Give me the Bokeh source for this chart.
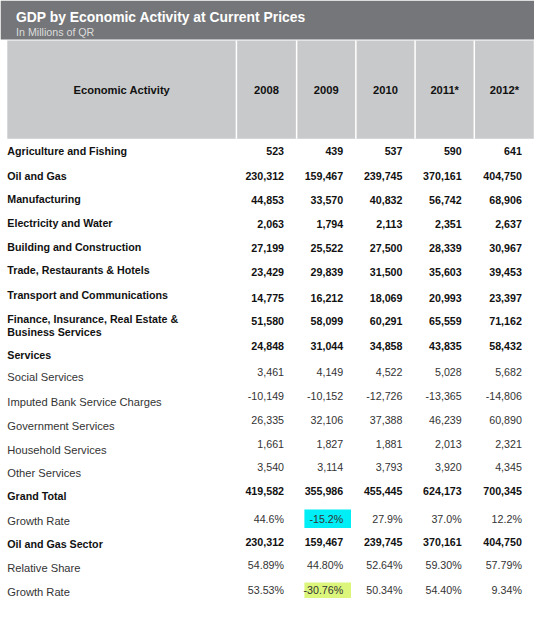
from bokeh.plotting import figure
from bokeh.models import Range1d, ColumnDataSource
from bokeh.core.properties import value
from bokeh.embed import file_html
from bokeh.resources import INLINE

# ---------------- data ----------------
title = "GDP by Economic Activity at Current Prices"
subtitle = "In Millions of QR"
header_label = "Economic Activity"
years = ["2008", "2009", "2010", "2011*", "2012*"]

activities = [
    "Agriculture and Fishing", "Oil and Gas", "Manufacturing", "Electricity and Water",
    "Building and Construction", "Trade, Restaurants & Hotels", "Transport and Communications",
    "Finance, Insurance, Real Estate &|Business Services", "Services", "Social Services",
    "Imputed Bank Service Charges", "Government Services", "Household Services", "Other Services",
    "Grand Total", "Growth Rate", "Oil and Gas Sector", "Relative Share", "Growth Rate",
]

agriculture = [523, 439, 537, 590, 641]
oil_gas = [230312, 159467, 239745, 370161, 404750]
manufacturing = [44853, 33570, 40832, 56742, 68906]
electricity_water = [2063, 1794, 2113, 2351, 2637]
building_construction = [27199, 25522, 27500, 28339, 30967]
trade_restaurants_hotels = [23429, 29839, 31500, 35603, 39453]
transport_communications = [14775, 16212, 18069, 20993, 23397]
finance_insurance = [51580, 58099, 60291, 65559, 71162]
services = [24848, 31044, 34858, 43835, 58432]
social_services = [3461, 4149, 4522, 5028, 5682]
imputed_bank_charges = [-10149, -10152, -12726, -13365, -14806]
government_services = [26335, 32106, 37388, 46239, 60890]
household_services = [1661, 1827, 1881, 2013, 2321]
other_services = [3540, 3114, 3793, 3920, 4345]
grand_total = [419582, 355986, 455445, 624173, 700345]
growth_rate_total = [44.6, -15.2, 27.9, 37.0, 12.2]
oil_gas_sector = [230312, 159467, 239745, 370161, 404750]
relative_share = [54.89, 44.80, 52.64, 59.30, 57.79]
growth_rate_oil = [53.53, -30.76, 50.34, 54.40, 9.34]

row_values = [agriculture, oil_gas, manufacturing, electricity_water, building_construction,
              trade_restaurants_hotels, transport_communications, finance_insurance, services,
              social_services, imputed_bank_charges, government_services, household_services,
              other_services, grand_total, growth_rate_total, oil_gas_sector, relative_share,
              growth_rate_oil]
row_format = ["int"] * 15 + ["pct1", "int", "pct2", "pct2"]
row_bold = [True] * 9 + [False] * 5 + [True, False, True, False, False]

# highlighted cells: (row index, column index, colour)
highlights = [(15, 1, "#00eef6"), (18, 1, "#dcf67c")]

# ---------------- layout (reference pixel frame) ----------------
W, H = 550, 617
PW, PH = 534, 601
S = PW / W

label_y = [155, 180, 204, 228.5, 253, 277, 302, (327, 340), 364, 387, 412, 437, 461, 485,
           509, 534, 558, 583, 607]
value_y = [155, 180, 205, 229, 254, 279, 305, 329, 355, 381, 406, 431, 455, 479,
           504, 532, 556, 580, 605.5]
col_edges = [243, 305, 366, 427, 488, 550]
label_x = 7
header_top, header_bottom = 41, 142


def fs(px):
    return f"{px * S:.2f}px"


def fmt(v, kind):
    if kind == "int":
        return f"{v:,}"
    if kind == "pct1":
        return f"{v:.1f}%"
    return f"{v:.2f}%"


FONT = value("Liberation Sans")

p = figure(width=PW, height=PH, x_range=Range1d(0, W), y_range=Range1d(H, 0),
           output_backend="svg", toolbar_location=None, min_border=0)
p.axis.visible = False
p.grid.visible = False
p.outline_line_color = None
p.background_fill_color = "white"
p.border_fill_color = "white"

# title bar
p.quad(left=[0], right=[W], top=[0], bottom=[40], fill_color="#747679", line_color=None)
p.text(x=[16], y=[16.5], text=[title], text_font=FONT, text_font_size=fs(14.3),
       text_font_style="bold", text_color="white", text_baseline="alphabetic")
p.text(x=[16], y=[32], text=[subtitle], text_font=FONT, text_font_size=fs(11),
       text_color="#dcdcdc", text_baseline="alphabetic")

# header block
p.quad(left=[7], right=[W], top=[header_top], bottom=[header_bottom],
       fill_color="#c8c9cb", line_color=None)
p.segment(x0=col_edges, x1=col_edges, y0=[header_top] * 6, y1=[header_bottom] * 6,
          line_color="white", line_width=1.5)
hy = (header_top + header_bottom) / 2
hx = [(7 + col_edges[0]) / 2] + [(col_edges[i] + col_edges[i + 1]) / 2 for i in range(5)]
p.text(x=hx, y=[hy] * 6, text=[header_label] + years, text_font=FONT,
       text_font_size=fs(11.5), text_font_style="bold", text_color="#111111",
       text_align="center", text_baseline="middle")

# highlight boxes
hl = dict(left=[], right=[], top=[], bottom=[], color=[])
for r, c, colr in highlights:
    right = col_edges[c + 1]
    hl["left"].append(right - 53)
    hl["right"].append(right - 5)
    half = 9.5 if r == 15 else 8
    hl["top"].append(value_y[r] - half)
    hl["bottom"].append(value_y[r] + half)
    hl["color"].append(colr)
p.quad(left="left", right="right", top="top", bottom="bottom", fill_color="color",
       line_color=None, source=ColumnDataSource(hl))

# row labels and values
lab = {True: dict(x=[], y=[], t=[]), False: dict(x=[], y=[], t=[])}
val = {True: dict(x=[], y=[], t=[]), False: dict(x=[], y=[], t=[])}
for i, name in enumerate(activities):
    b = row_bold[i]
    lines = name.split("|")
    ys = label_y[i] if isinstance(label_y[i], tuple) else (label_y[i],)
    for ln, yy in zip(lines, ys):
        lab[b]["x"].append(label_x)
        lab[b]["y"].append(yy)
        lab[b]["t"].append(ln)
    for c, v in enumerate(row_values[i]):
        val[b]["x"].append(col_edges[c + 1] - 13)
        val[b]["y"].append(value_y[i])
        val[b]["t"].append(fmt(v, row_format[i]))

for b in (True, False):
    style = "bold" if b else "normal"
    color = "#111111" if b else "#333333"
    p.text(x="x", y="y", text="t", source=ColumnDataSource(lab[b]), text_font=FONT,
           text_font_size=fs(11 if b else 11.5), text_font_style=style, text_color=color,
           text_baseline="middle", text_align="left")
    p.text(x="x", y="y", text="t", source=ColumnDataSource(val[b]), text_font=FONT,
           text_font_size=fs(11), text_font_style=style, text_color=color,
           text_baseline="middle", text_align="right")

open("out.html", "w").write(file_html(p, INLINE))
